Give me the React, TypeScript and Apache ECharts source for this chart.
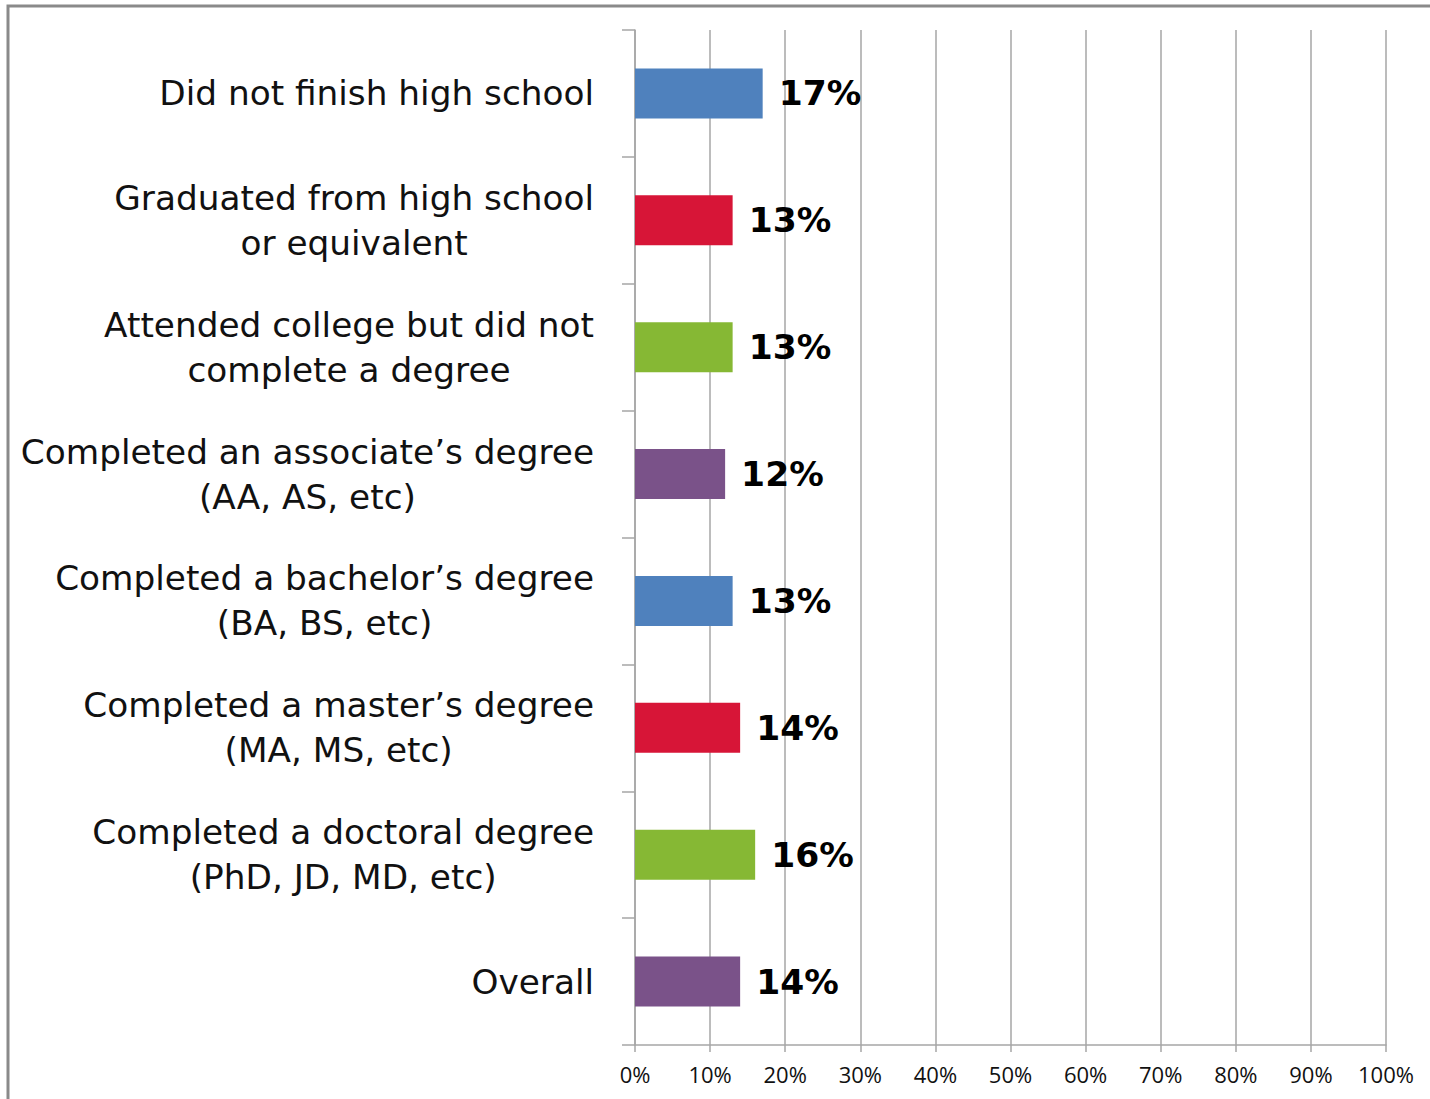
import React, { useEffect, useRef } from "react";
import * as echarts from "echarts";

const categories: string[] = [
  "Did not finish high school",
  "Graduated from high school\nor equivalent",
  "Attended college but did not\ncomplete a degree",
  "Completed an associate\u2019s degree\n(AA, AS, etc)",
  "Completed a bachelor\u2019s degree\n(BA, BS, etc)",
  "Completed a master\u2019s degree\n(MA, MS, etc)",
  "Completed a doctoral degree\n(PhD, JD, MD, etc)",
  "Overall",
];

const values: number[] = [17, 13, 13, 12, 13, 14, 16, 14];

const barColors: string[] = [
  "#4F81BD",
  "#D71537",
  "#86B834",
  "#7A5289",
  "#4F81BD",
  "#D71537",
  "#86B834",
  "#7A5289",
];

const xTicks = { min: 0, max: 100, interval: 10 };

export default function App() {
  const ref = useRef<HTMLDivElement>(null);

  useEffect(() => {
    if (!ref.current) return;
    const chart = echarts.init(ref.current, undefined, { renderer: "svg" });
    const gridColor = "#A6A6A6";
    chart.setOption({
      animation: false,
      backgroundColor: "#FFFFFF",
      graphic: [
        {
          type: "rect",
          shape: { x: 8, y: 6, width: 1500, height: 1200 },
          style: { fill: "none", stroke: "#8A8A8A", lineWidth: 3 },
          silent: true,
        },
      ],
      grid: { left: 635, right: 44, top: 30, bottom: 54, containLabel: false },
      xAxis: {
        type: "value",
        min: xTicks.min,
        max: xTicks.max,
        interval: xTicks.interval,
        axisLine: { show: true, lineStyle: { color: gridColor, width: 1.5 } },
        axisTick: { show: true, length: 7, lineStyle: { color: gridColor, width: 1.5 } },
        splitLine: { show: true, lineStyle: { color: gridColor, width: 1.5 } },
        axisLabel: {
          formatter: "{value}%",
          fontFamily: "Open Sans",
          fontSize: 22,
          color: "#111111",
          margin: 18,
        },
      },
      yAxis: {
        type: "category",
        inverse: true,
        data: categories,
        axisLine: { show: true, lineStyle: { color: gridColor, width: 1.5 } },
        axisTick: { show: true, length: 13, lineStyle: { color: gridColor, width: 1.5 } },
        axisLabel: {
          margin: 41,
          align: "right",
          fontFamily: "DejaVu Sans",
          fontSize: 34.3,
          lineHeight: 45,
          color: "#111111",
          formatter: (v: string) =>
            v
              .split("\n")
              .map((l) => `{c|${l}}`)
              .join("\n"),
          rich: {
            c: {
              align: "center",
              fontFamily: "DejaVu Sans",
              fontSize: 34.3,
              lineHeight: 45,
              color: "#111111",
            },
          },
        },
      },
      series: [
        {
          type: "bar",
          barWidth: 50,
          data: values.map((v, i) => ({
            value: v,
            itemStyle: { color: barColors[i] },
          })),
          label: {
            show: true,
            position: "right",
            distance: 16,
            formatter: "{c}%",
            fontFamily: "DejaVu Sans",
            fontWeight: "bold",
            fontSize: 34.5,
            color: "#000000",
          },
        },
      ],
    });
    return () => chart.dispose();
  }, []);

  return (
    <div
      ref={ref}
      style={{ position: "fixed", left: 0, top: 0, width: 1430, height: 1099 }}
    />
  );
}
